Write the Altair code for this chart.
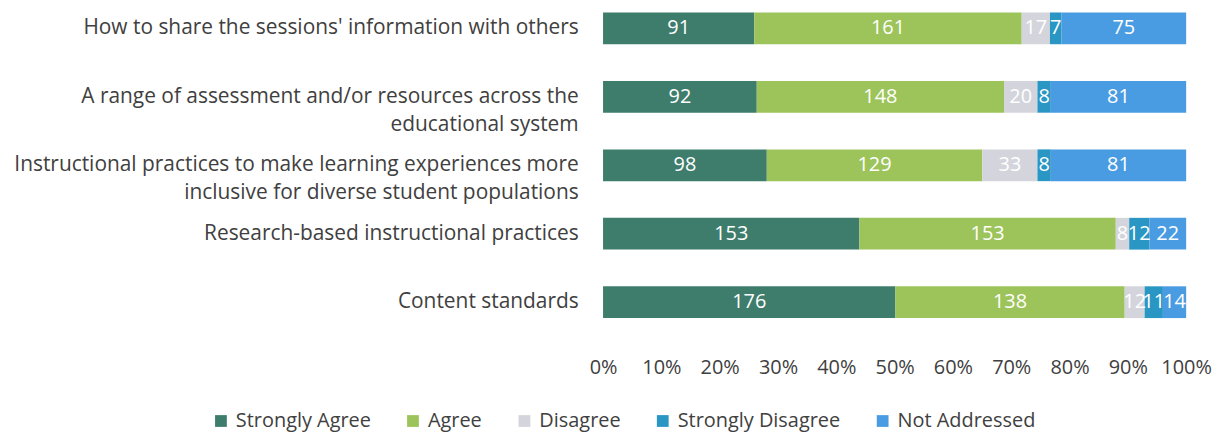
import altair as alt
import pandas as pd

categories = [
    "How to share the sessions' information with others",
    "A range of assessment and/or resources across the|educational system",
    "Instructional practices to make learning experiences more|inclusive for diverse student populations",
    "Research-based instructional practices",
    "Content standards",
]
series = ["Strongly Agree", "Agree", "Disagree", "Strongly Disagree", "Not Addressed"]
strongly_agree = [91, 92, 98, 153, 176]
agree = [161, 148, 129, 153, 138]
disagree = [17, 20, 33, 8, 12]
strongly_disagree = [7, 8, 8, 12, 11]
not_addressed = [75, 81, 81, 22, 14]
colors = ["#3e7d6c", "#9dc45a", "#d4d5dc", "#2a96c4", "#4a9ce2"]

values = [strongly_agree, agree, disagree, strongly_disagree, not_addressed]
rows = []
for ci, cat in enumerate(categories):
    for si, s in enumerate(series):
        rows.append({"cat": cat, "series": s, "order": si, "v": values[si][ci]})
df = pd.DataFrame(rows)

FONT = "Open Sans"
TXT = "#404040"

base = alt.Chart(df).transform_joinaggregate(
    total="sum(v)", groupby=["cat"]
).transform_window(
    cum="sum(v)", groupby=["cat"], sort=[alt.SortField("order")], frame=[None, 0]
).transform_calculate(
    x1="(datum.cum - datum.v) / datum.total",
    x2="datum.cum / datum.total",
    xm="(datum.cum - datum.v / 2) / datum.total",
)

y_enc = alt.Y(
    "cat:N",
    sort=categories,
    title=None,
    scale=alt.Scale(paddingInner=0.536, paddingOuter=0.05),
    axis=alt.Axis(
        labelExpr="split(datum.label, '|')",
        labelFontSize=21,
        labelFont=FONT,
        labelColor=TXT,
        labelPadding=25,
        labelLineHeight=28,
        labelLimit=800,
        ticks=False,
        domain=False,
        grid=False,
    ),
)

bars = base.mark_bar().encode(
    x=alt.X(
        "x1:Q",
        scale=alt.Scale(domain=[0, 1], nice=False),
        title=None,
        axis=alt.Axis(
            format=".0%",
            values=[i / 10 for i in range(11)],
            labelFontSize=20,
            labelFont=FONT,
            labelColor=TXT,
            labelPadding=36,
            labelOverlap=False,
            labelFlush=False,
            ticks=False,
            domain=False,
            grid=False,
        ),
    ),
    x2="x2:Q",
    y=y_enc,
    color=alt.Color(
        "series:N",
        sort=series,
        scale=alt.Scale(domain=series, range=colors),
        legend=alt.Legend(
            title=None,
            orient="none",
            direction="horizontal",
            legendX=-394,
            legendY=404,
            symbolType="square",
            symbolSize=140,
            symbolStrokeWidth=0,
            labelFontSize=20,
            labelFont=FONT,
            labelColor=TXT,
            columnPadding=32,
            labelOffset=5,
            labelLimit=300,
        ),
    ),
    order=alt.Order("order:Q"),
)

labels = base.mark_text(color="white", fontSize=20, font=FONT).encode(
    x="xm:Q",
    y=alt.Y("cat:N", sort=categories),
    text="v:Q",
)

chart = (bars + labels).properties(
    width=586, height=314,
    padding={"left": 5, "top": 0, "right": 5, "bottom": 0},
).configure_view(stroke=None)

chart.save("out.html", embed_options={"renderer": "svg", "actions": False})
